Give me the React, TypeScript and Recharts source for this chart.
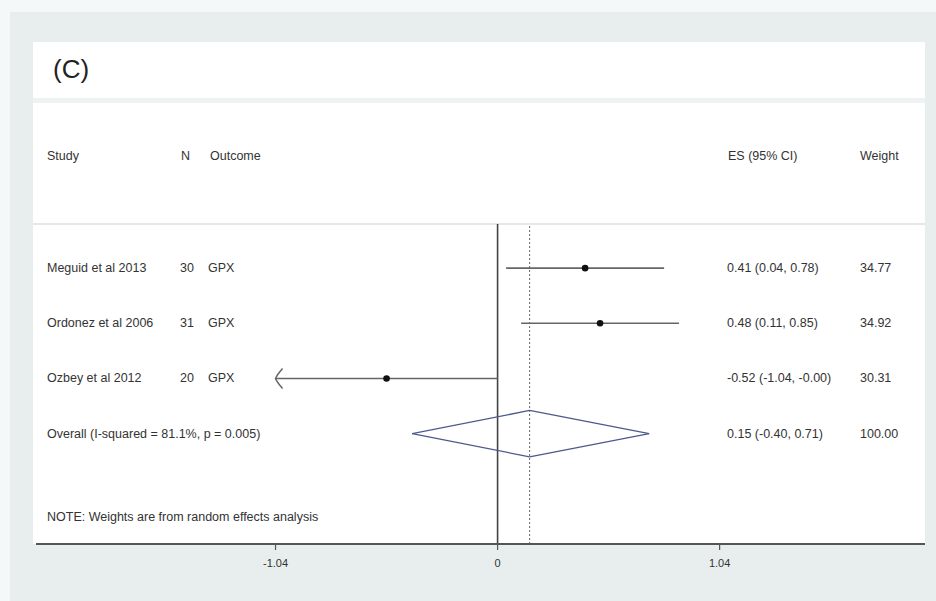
import React from 'react';
import { ComposedChart, XAxis, YAxis, ReferenceLine, Scatter } from 'recharts';

const studies = ['Meguid et al 2013', 'Ordonez et al 2006', 'Ozbey et al 2012'];
const sampleSizes = ['30', '31', '20'];
const outcomes = ['GPX', 'GPX', 'GPX'];
const effectSizes = [0.41, 0.48, -0.52];
const ciLower = [0.04, 0.11, -1.04];
const ciUpper = [0.78, 0.85, -0.0];
const esLabels = ['0.41 (0.04, 0.78)', '0.48 (0.11, 0.85)', '-0.52 (-1.04, -0.00)'];
const weights = ['34.77', '34.92', '30.31'];

const overallLabel = 'Overall  (I-squared = 81.1%, p = 0.005)';
const overallEs = 0.15;
const overallLower = -0.4;
const overallUpper = 0.71;
const overallEsLabel = '0.15 (-0.40, 0.71)';
const overallWeight = '100.00';

const headers = ['Study', 'N', 'Outcome', 'ES (95% CI)', 'Weight'];
const note = 'NOTE: Weights are from random effects analysis';
const panelLabel = '(C)';
const xTicks = [-1.04, 0, 1.04];
const xTickLabels = ['-1.04', '0', '1.04'];

const FONT = '"Liberation Sans", Arial, sans-serif';
const TEXT = '#333';
const COLS = { name: 47, n: 180, outcome: 208, es: 727, weight: 860 };
const OVERALL_ROW = studies.length;
const DIAMOND_HALF = 0.42;

const textRows = [
  ...studies.map((s, i) => ({
    x: effectSizes[i],
    y: i,
    name: s,
    n: sampleSizes[i],
    outcome: outcomes[i],
    es: esLabels[i],
    weight: weights[i],
  })),
  { x: overallEs, y: OVERALL_ROW, name: overallLabel, n: '', outcome: '', es: overallEsLabel, weight: overallWeight },
];

const pointRows = studies.map((_, i) => ({ x: effectSizes[i], y: i }));
const arrowRows = studies
  .map((_, i) => ({ x: ciLower[i], y: i }))
  .filter((p) => p.x <= xTicks[0]);

const TextRowShape = (props: any) => {
  const { cy, payload } = props;
  const common = { fontFamily: FONT, fontSize: 12.5, fill: TEXT, dominantBaseline: 'central' as const };
  return (
    <g>
      <text x={COLS.name} y={cy} {...common}>{payload.name}</text>
      <text x={COLS.n} y={cy} {...common}>{payload.n}</text>
      <text x={COLS.outcome} y={cy} {...common}>{payload.outcome}</text>
      <text x={COLS.es} y={cy} {...common}>{payload.es}</text>
      <text x={COLS.weight} y={cy} {...common}>{payload.weight}</text>
    </g>
  );
};

const DotShape = (props: any) => {
  const { cx, cy } = props;
  return <circle cx={cx} cy={cy} r={3.3} fill="#111" />;
};

const ArrowShape = (props: any) => {
  const { cx, cy } = props;
  return (
    <path
      d={`M ${cx + 7} ${cy - 10} Q ${cx + 1} ${cy - 3} ${cx} ${cy} Q ${cx + 1} ${cy + 3} ${cx + 7} ${cy + 10}`}
      stroke="#666"
      strokeWidth={1.5}
      fill="none"
    />
  );
};

export default function App() {
  const diamond = [
    [{ x: overallLower, y: OVERALL_ROW }, { x: overallEs, y: OVERALL_ROW - DIAMOND_HALF }],
    [{ x: overallEs, y: OVERALL_ROW - DIAMOND_HALF }, { x: overallUpper, y: OVERALL_ROW }],
    [{ x: overallUpper, y: OVERALL_ROW }, { x: overallEs, y: OVERALL_ROW + DIAMOND_HALF }],
    [{ x: overallEs, y: OVERALL_ROW + DIAMOND_HALF }, { x: overallLower, y: OVERALL_ROW }],
  ];
  const headerX = [COLS.name, COLS.n + 1, COLS.outcome + 2, COLS.es + 1, COLS.weight];
  return (
    <div style={{ position: 'absolute', left: 0, top: 0, width: 936, height: 601, background: '#f5f8f9' }}>
      <svg width={936} height={601} style={{ position: 'absolute', left: 0, top: 0 }}>
        <rect x={10} y={12} width={926} height={589} fill="#e8eeee" />
        <rect x={33} y={42} width={892} height={56} fill="#ffffff" />
        <rect x={33} y={98} width={892} height={5} fill="#eef2f2" />
        <rect x={33} y={103} width={892} height={441} fill="#ffffff" />
        <line x1={33} x2={925} y1={224} y2={224} stroke="#dde1e1" strokeWidth={1.5} />
        <text x={53} y={78} fontFamily={FONT} fontSize={26} fill="#222">{panelLabel}</text>
        {headers.map((h, i) => (
          <text key={h} x={headerX[i]} y={156} fontFamily={FONT} fontSize={12.5} fill={TEXT} dominantBaseline="central">
            {h}
          </text>
        ))}
        <text x={COLS.name} y={517} fontFamily={FONT} fontSize={12.5} fill={TEXT} dominantBaseline="central">
          {note}
        </text>
      </svg>
      <div style={{ position: 'absolute', left: 0, top: 0 }}>
        <ComposedChart width={936} height={601} margin={{ top: 224, right: 11, bottom: 27, left: 36 }}>
          <XAxis
            type="number"
            dataKey="x"
            domain={[-2.162, 2.002]}
            allowDataOverflow
            ticks={xTicks}
            interval={0}
            tickFormatter={(v: number) => xTickLabels[xTicks.indexOf(v)]}
            height={30}
            tickSize={6}
            tickMargin={9}
            axisLine={{ stroke: '#555', strokeWidth: 2 }}
            tickLine={{ stroke: '#555', strokeWidth: 1.2 }}
            tick={{ fontSize: 11, fill: TEXT, fontFamily: FONT }}
          />
          <YAxis type="number" dataKey="y" domain={[-0.8, 5]} reversed hide allowDataOverflow />
          <ReferenceLine x={0} stroke="#444" strokeWidth={1.6} />
          <ReferenceLine x={overallEs} stroke="#666" strokeWidth={1} strokeDasharray="2 2" />
          {studies.map((s, i) => (
            <ReferenceLine
              key={s}
              segment={[{ x: ciLower[i], y: i }, { x: ciUpper[i], y: i }]}
              stroke="#666"
              strokeWidth={1.6}
            />
          ))}
          {diamond.map((seg, i) => (
            <ReferenceLine key={`d${i}`} segment={seg} stroke="#4b5a8c" strokeWidth={1.3} />
          ))}
          <Scatter data={pointRows} shape={DotShape} isAnimationActive={false} />
          <Scatter data={arrowRows} shape={ArrowShape} isAnimationActive={false} />
          <Scatter data={textRows} shape={TextRowShape} isAnimationActive={false} />
        </ComposedChart>
      </div>
    </div>
  );
}
